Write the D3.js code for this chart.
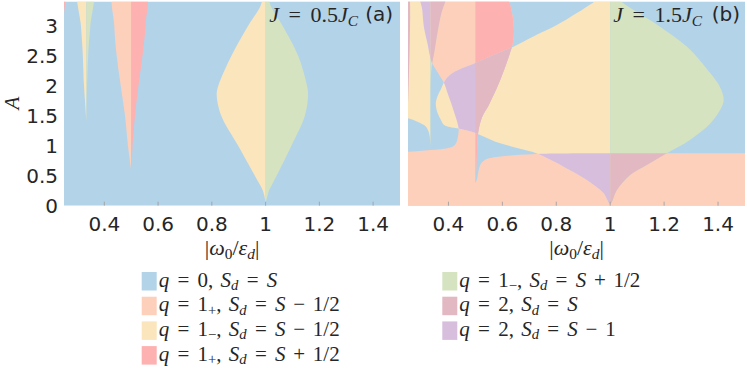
<!DOCTYPE html>
<html><head><meta charset="utf-8">
<script src="https://cdn.jsdelivr.net/npm/d3@7"></script>
<style>
body{margin:0;background:#fff;}
svg{display:block;}
text{fill:#262626;}
</style></head><body>
<script>
// ---------------- data ----------------
const xDomain = [0.25, 1.5];
const yDomain = [0, 3.4];
const xTicks = [0.4, 0.6, 0.8, 1, 1.2, 1.4];
const xTickLabels = ["0.4", "0.6", "0.8", "1", "1.2", "1.4"];
const yTicks = [0, 0.5, 1, 1.5, 2, 2.5, 3];
const yTickLabels = ["0", "0.5", "1", "1.5", "2", "2.5", "3"];
const panelTitles = [["J", "0.5"], ["J", "1.5"]];
const panelTags = ["(a)", "(b)"];

// panel (a): resonance lobes, boundaries given as x(A)
const aLensA     = [0.05, 0.25, 0.5, 1, 1.5, 1.85, 2, 2.5, 3, 3.3, 3.55];
const aLensLeft  = [1.0, 0.99, 0.96, 0.898, 0.835, 0.818, 0.824, 0.873, 0.935, 0.978, 1.0];
const aLensRight = [1.0, 1.012, 1.041, 1.096, 1.146, 1.158, 1.154, 1.121, 1.063, 1.022, 1.0];
const aHalfA     = [0.6, 1, 1.5, 2, 2.5, 3, 3.6];
const aHalfLeft  = [0.5, 0.488, 0.477, 0.461, 0.446, 0.437, 0.436];
const aHalfRight = [0.5, 0.505, 0.514, 0.527, 0.542, 0.553, 0.552];
const aThirdA     = [1.4, 1.75, 2.03, 2.6, 3.0, 3.6];
const aThirdLeft  = [0.3333, 0.328, 0.324, 0.319, 0.313, 0.303];
const aThirdRight = [0.3334, 0.334, 0.336, 0.341, 0.348, 0.357];
const aQuarter = [[0.25, 3.2], [0.2545, 3.6], [0.25, 3.6]];

// panel (b): region outlines as [x, A] points
const bBandTopLeft = [[0.2, 0.89], [0.25, 0.9], [0.29, 0.912], [0.334, 0.928], [0.37, 0.94], [0.396, 0.957],
  [0.418, 0.99], [0.429, 1.05], [0.435, 1.15], [0.438, 1.27]];
const bSpikeLeft = [[0.434, 1.37], [0.428, 1.46], [0.418, 1.6], [0.406, 1.76], [0.395, 1.9], [0.384, 2.04],
  [0.359, 2.23], [0.337, 2.40], [0.322, 2.71], [0.309, 2.98], [0.303, 3.26], [0.297, 3.6]];
const bSpikeRight = [[0.612, 3.6], [0.624, 3.43], [0.636, 3.21], [0.643, 2.93], [0.639, 2.71], [0.625, 2.5],
  [0.611, 2.32], [0.587, 2.04], [0.55, 1.68], [0.525, 1.48], [0.51, 1.21], [0.506, 0.9], [0.503, 0.6], [0.5, 0.38]];
const bBandTopRight = [[0.506, 0.45], [0.518, 0.68], [0.535, 0.76], [0.55, 0.79], [0.611, 0.83], [0.71, 0.857],
  [0.8, 0.868], [1.0, 0.873], [1.55, 0.875]];
const bLens = [[1.0, 3.6], [0.951, 3.43], [0.876, 3.21], [0.802, 3.01], [0.715, 2.82], [0.641, 2.65], [0.57, 2.515],
  [0.5, 2.38], [0.45, 2.29], [0.405, 2.18], [0.386, 2.08], [0.372, 1.94], [0.359, 1.82], [0.353, 1.70],
  [0.356, 1.60], [0.362, 1.52], [0.372, 1.43], [0.384, 1.345], [0.405, 1.31], [0.433, 1.29], [0.45, 1.273],
  [0.5, 1.21], [0.574, 1.067], [0.64, 0.98], [0.71, 0.9], [0.74, 0.85], [0.78, 0.76], [0.827, 0.65],
  [0.913, 0.43], [0.975, 0.21], [1.0, 0.03], [1.025, 0.26], [1.074, 0.51], [1.136, 0.68], [1.21, 0.873],
  [1.297, 1.1], [1.371, 1.37], [1.408, 1.6], [1.421, 1.76], [1.408, 1.97], [1.371, 2.21], [1.285, 2.65],
  [1.186, 2.98], [1.087, 3.26], [1.03, 3.43]];
const bThird = [[0.2, 3.6], [0.2, 1.47], [0.25, 1.457], [0.285, 1.40], [0.316, 1.32], [0.328, 1.21], [0.3318, 1.1],
  [0.3333, 1.0], [0.3336, 1.5], [0.3338, 2.0], [0.3355, 2.2], [0.339, 2.35], [0.347, 2.54], [0.359, 2.87],
  [0.374, 3.21], [0.39, 3.43], [0.395, 3.6]];
const bQuarter = [[0.25, 1.7], [0.2535, 3.6], [0.25, 3.6]];

// legend
const palette = {blue: "#b3d3e9", peach: "#fdd0bc", yellow: "#fae5bd", red: "#fdb1b0",
                 green: "#d6e3c0", mauve: "#e2b8c3", purple: "#d7bedd"};
const legendColors = ["blue", "peach", "yellow", "red", "green", "mauve", "purple"];
const legendLabels = [
  [["q", "i"], [" = 0, "], ["S", "i"], ["d", "isub"], [" = "], ["S", "i"]],
  [["q", "i"], [" = 1"], ["+", "sub"], [", "], ["S", "i"], ["d", "isub"], [" = "], ["S", "i"], [" − 1/2"]],
  [["q", "i"], [" = 1"], ["−", "sub"], [", "], ["S", "i"], ["d", "isub"], [" = "], ["S", "i"], [" − 1/2"]],
  [["q", "i"], [" = 1"], ["+", "sub"], [", "], ["S", "i"], ["d", "isub"], [" = "], ["S", "i"], [" + 1/2"]],
  [["q", "i"], [" = 1"], ["−", "sub"], [", "], ["S", "i"], ["d", "isub"], [" = "], ["S", "i"], [" + 1/2"]],
  [["q", "i"], [" = 2, "], ["S", "i"], ["d", "isub"], [" = "], ["S", "i"]],
  [["q", "i"], [" = 2, "], ["S", "i"], ["d", "isub"], [" = "], ["S", "i"], [" − 1"]]
];

// ---------------- drawing ----------------
const W = 747, H = 368;
const svg = d3.select("body").append("svg").attr("width", W).attr("height", H);
const defs = svg.append("defs");
const serif = "'Liberation Serif', 'DejaVu Serif', serif";
const sans = "'DejaVu Sans', sans-serif";

function dedupe(pts) {
  const out = [];
  pts.forEach(p => { const q = out[out.length - 1]; if (!q || q[0] !== p[0] || q[1] !== p[1]) out.push(p); });
  const f = out[0], l = out[out.length - 1];
  if (out.length > 1 && f[0] === l[0] && f[1] === l[1]) out.pop();
  return out;
}
function lobe(As, L, R) {
  return dedupe(As.map((a, i) => [L[i], a]).concat(As.map((a, i) => [R[i], a]).reverse()));
}

// TeX-like spacing: relations and binary operators get extra room
function mathText(sel, segs, size, relExtra, binExtra, commaExtra) {
  let shift = 0, pend = 0;
  const sp = size * 0.25;
  function add(txt, kind) {
    const t = sel.append("tspan").text(txt);
    if (pend) { t.attr("dx", pend); pend = 0; }
    if (kind === "i" || kind === "isub") t.style("font-style", "italic");
    if (kind === "sub" || kind === "isub") {
      const s = size * 0.16;
      t.style("font-size", (size * 0.7) + "px");
      if (s !== shift) t.attr("dy", s - shift);
      shift = s;
    } else if (shift) {
      t.attr("dy", -shift); shift = 0;
    }
  }
  segs.forEach(([txt, kind]) => {
    if (kind) { add(txt, kind); return; }
    const toks = txt.split(" ");
    toks.forEach((tok, k) => {
      if (k > 0) {
        const a = toks[k - 1], b = tok;
        const isRel = a === "=" || b === "=";
        const isBin = ["−", "+"].includes(a) || ["−", "+"].includes(b);
        pend += sp + (isRel ? relExtra : isBin ? binExtra : commaExtra);
      }
      if (tok) add(tok, "");
    });
  });
}

const panels = [{x0: 64, x1: 400}, {x0: 408, x1: 745}];
const yRange = [205.7, 1.7];

panels.forEach((p, pi) => {
  const x = d3.scaleLinear().domain(xDomain).range([p.x0, p.x1]);
  const y = d3.scaleLinear().domain(yDomain).range(yRange);
  const line = d3.line().x(d => x(d[0])).y(d => y(d[1])).curve(d3.curveCatmullRom.alpha(0.5));
  const pathOf = pts => line(pts) + "Z";
  const id = "p" + pi;

  defs.append("clipPath").attr("id", id + "plot").append("rect")
    .attr("x", p.x0).attr("y", yRange[1]).attr("width", p.x1 - p.x0).attr("height", yRange[0] - yRange[1]);
  function halfClip(v, side) {
    const cid = id + side + String(v).replace(".", "_");
    if (defs.select("#" + cid).empty()) {
      const r = defs.append("clipPath").attr("id", cid).append("rect").attr("y", -100).attr("height", 600);
      if (side === "L") r.attr("x", p.x0 - 200).attr("width", x(v) - p.x0 + 200);
      else r.attr("x", x(v)).attr("width", p.x1 + 200 - x(v));
    }
    return "url(#" + cid + ")";
  }
  const g = svg.append("g").attr("clip-path", "url(#" + id + "plot)");
  g.append("rect").attr("x", p.x0).attr("y", 0).attr("width", p.x1 - p.x0).attr("height", yRange[0])
    .attr("fill", palette.blue);
  function fill(parent, pts, color, clip) {
    parent.append("path").attr("d", pathOf(pts)).attr("fill", palette[color]).attr("clip-path", clip || null);
  }
  function twoTone(parent, pts, v, cl, cr) {
    fill(parent, pts, cl, halfClip(v, "L"));
    fill(parent, pts, cr, halfClip(v, "R"));
  }

  if (pi === 0) {
    twoTone(g, lobe(aLensA, aLensLeft, aLensRight), 1, "yellow", "green");
    twoTone(g, lobe(aHalfA, aHalfLeft, aHalfRight), 0.5, "peach", "red");
    twoTone(g, lobe(aThirdA, aThirdLeft, aThirdRight), 1 / 3, "yellow", "green");
    fill(g, aQuarter, "red");
  } else {
    const P = [[0.2, -0.2]].concat(bBandTopLeft, bSpikeLeft, bSpikeRight, bBandTopRight, [[1.6, 0.875], [1.6, -0.2]]);
    const Red = [[0.5, 3.6]].concat(bSpikeRight);
    fill(g, P, "peach");
    fill(g, Red, "red");
    twoTone(g, bLens, 1, "yellow", "green");
    twoTone(g, bThird, 1 / 3, "yellow", "green");
    defs.append("clipPath").attr("id", id + "P").append("path").attr("d", pathOf(P));
    defs.append("clipPath").attr("id", id + "Red").append("path").attr("d", pathOf(Red));
    const gP = g.append("g").attr("clip-path", "url(#" + id + "P)");
    twoTone(gP, bLens, 1, "purple", "mauve");
    twoTone(gP, bThird, 1 / 3, "purple", "mauve");
    const gR = g.append("g").attr("clip-path", "url(#" + id + "Red)");
    fill(gR, bLens, "mauve");
    fill(g, bQuarter, "mauve");
  }

  // ticks
  svg.append("g").selectAll("line").data(xTicks).join("line")
    .attr("x1", d => x(d)).attr("x2", d => x(d)).attr("y1", yRange[0]).attr("y2", yRange[0] - 4)
    .attr("stroke", "#9a9a9a").attr("stroke-width", 0.8);
  svg.append("g").selectAll("text").data(xTicks).join("text")
    .attr("x", d => x(d)).attr("y", 230.5).attr("text-anchor", "middle")
    .style("font-family", sans).style("font-size", "20px")
    .text((d, i) => xTickLabels[i]);
  if (pi === 0) {
    svg.append("g").selectAll("text").data(yTicks).join("text")
      .attr("x", 58).attr("y", d => y(d)).attr("dy", "0.36em").attr("text-anchor", "end")
      .style("font-family", sans).style("font-size", "20px")
      .text((d, i) => yTickLabels[i]);
    svg.append("text").attr("transform", "translate(19,103) rotate(-90)").attr("text-anchor", "middle")
      .style("font-family", serif).style("font-size", "21px").style("font-style", "italic").text("A");
  }
  // x label
  const xl = svg.append("text").attr("x", (p.x0 + p.x1) / 2).attr("y", 255).attr("text-anchor", "middle")
    .style("font-family", serif).style("font-size", "22px");
  mathText(xl, [["|", "u"], ["ω", "i"], ["0", "sub"], ["/", "u"], ["ε", "i"], ["d", "isub"], ["|", "u"]], 22, 0, 0, 0);
  // title
  const tt = svg.append("text").attr("x", p.x1 - (pi === 0 ? 42 : 43)).attr("y", 22).attr("text-anchor", "end")
    .style("font-family", serif).style("font-size", "22px");
  mathText(tt, [[panelTitles[pi][0], "i"], [" = " + panelTitles[pi][1]], [panelTitles[pi][0], "i"], ["C", "isub"]], 22, 4, 2, 2);
  svg.append("text").attr("x", p.x1 - (pi === 0 ? 7 : 5)).attr("y", 21).attr("text-anchor", "end")
    .style("font-family", sans).style("font-size", "20px").text(panelTags[pi]);
});

// legend
const legCols = [141.7, 442.3];
const legRow0 = 272, legStep = 24.7;
legendLabels.forEach((lab, i) => {
  const col = i < 4 ? 0 : 1, row = i < 4 ? i : i - 4;
  const yy = legRow0 + row * legStep;
  svg.append("rect").attr("x", legCols[col]).attr("y", yy).attr("width", 15).attr("height", 18.5)
    .attr("fill", palette[legendColors[i]]);
  const t = svg.append("text").attr("x", legCols[col] + 17).attr("y", yy + 14.5)
    .style("font-family", serif).style("font-size", "21px");
  mathText(t, lab, 21, 3, 2.5, 2);
});
</script>
</body></html>
